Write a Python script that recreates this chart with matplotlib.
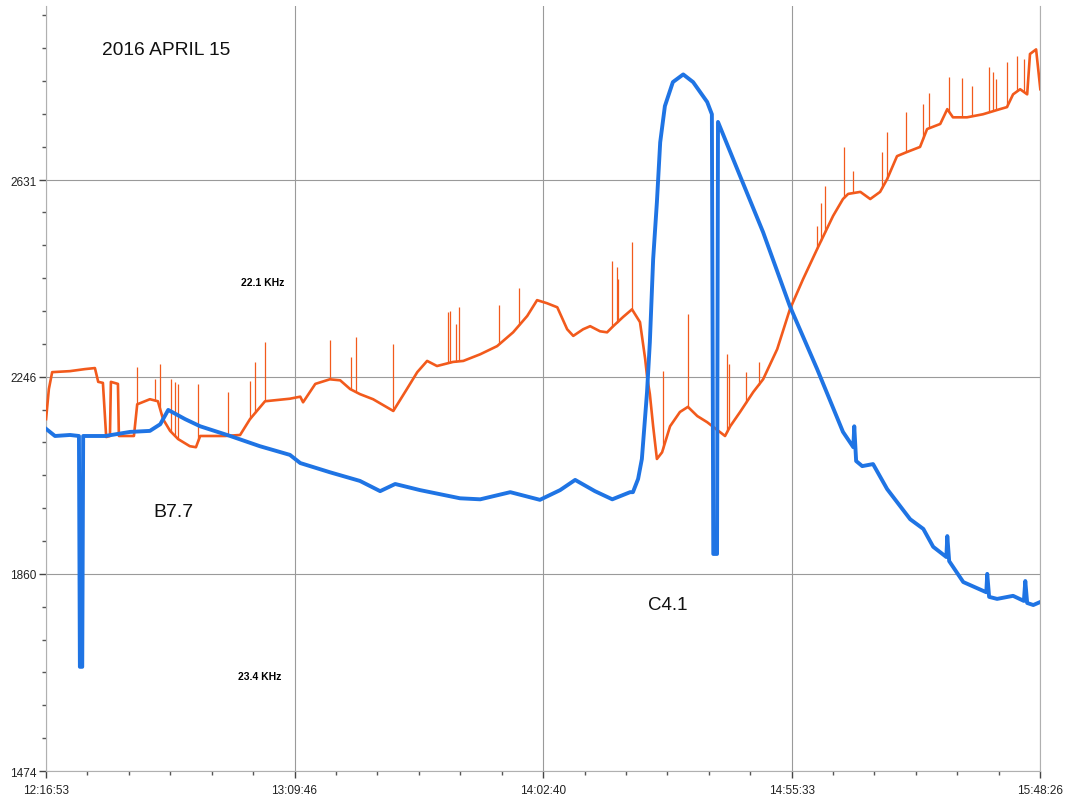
"""VLF receiver record, 2016 April 15: 22.1 kHz and 23.4 kHz signal strength."""

import matplotlib
import matplotlib.pyplot as plt
import numpy as np
from matplotlib.ticker import FixedLocator, FuncFormatter

matplotlib.use("Agg")

plt.rcParams["font.family"] = ["Liberation Sans", "DejaVu Sans"]

START_SEC = 12 * 3600 + 16 * 60 + 53  # 12:16:53

# minutes since 12:16:53
X_TICKS = [0.0, 52.883, 105.783, 158.667, 211.55]
Y_TICKS = [1474, 1860, 2246, 2631]

# 23.4 kHz trace (blue)
blue_t = [0.0, 1.9, 5.1, 7.0, 7.2, 7.7, 7.9, 12.6, 17.9, 22.1, 24.3, 26.0, 29.6, 32.8,
          39.2, 45.5, 51.9, 54.1, 60.4, 66.8, 71.1, 74.3, 79.6, 88.1, 92.4, 98.8, 105.1,
          109.4, 112.6, 116.8, 120.5, 124.3, 124.9, 126.0, 126.8, 127.9, 128.5, 129.2,
          130.0, 130.7, 131.7, 133.4, 135.6, 137.7, 140.7, 141.7, 142.0, 142.8, 143.0,
          147.7, 152.6, 158.3,
          164.1, 169.6, 171.8, 172.0, 172.4, 173.7, 176.0, 179.0, 183.9, 186.7, 188.8,
          191.6, 191.8, 192.2, 195.2, 200.1, 200.3, 200.7, 202.4, 205.8, 208.1, 208.4,
          208.8, 210.1, 211.6]
blue_v = [2144, 2130, 2132, 2130, 1678, 1678, 2130, 2130, 2138, 2140, 2153, 2181, 2163, 2149,
          2130, 2110, 2093, 2077, 2059, 2042, 2022, 2036, 2024, 2008, 2006, 2020, 2005,
          2024, 2044, 2022, 2006, 2020, 2020, 2046, 2085, 2216, 2314, 2476,
          2588, 2705, 2776, 2823, 2838, 2823, 2784, 2760, 1899, 1899, 2745,
          2639, 2529, 2384,
          2261, 2138, 2108, 2149, 2081, 2071, 2075, 2026, 1967, 1948, 1913,
          1893, 1934, 1885, 1844, 1824, 1860, 1815, 1811, 1817, 1807, 1846,
          1803, 1799, 1805]

# 22.1 kHz trace (orange), base line
orange_t = [0.0, 0.6, 1.3, 5.1, 8.3, 10.4, 11.1, 12.1, 12.8, 13.6, 13.8, 15.3, 15.5, 18.7,
            19.4, 22.1, 23.8,
            24.9, 26.4, 28.1, 30.6, 31.9, 32.8, 38.1, 41.3, 43.4, 46.6, 51.9, 54.1, 54.7,
            57.3, 60.4, 62.6, 64.7, 66.8, 69.6, 73.9, 76.8, 79.0, 81.1, 83.2, 86.6, 88.8,
            92.4, 96.0, 99.4, 102.4, 104.5, 106.6, 108.8, 110.9, 112.2, 114.3, 115.8,
            117.9, 119.4, 120.7, 122.8, 124.7, 126.4, 127.5, 127.9, 128.5, 129.2, 130.0,
            131.1, 132.8, 134.9, 136.6, 138.6, 140.7, 144.5, 145.6, 147.7, 150.5, 152.6,
            155.6, 158.3, 161.1, 164.1, 167.5, 169.6, 170.7, 173.3, 175.4, 177.5, 179.0,
            181.1, 183.2, 186.0, 187.5, 190.3, 191.8, 193.0, 196.0, 199.4, 203.0, 204.5,
            205.8, 207.3, 208.8, 209.4, 210.7, 211.6]
orange_v = [2163, 2222, 2255, 2257, 2261, 2263, 2236, 2234, 2128, 2130, 2236, 2232, 2130, 2130,
            2192, 2202, 2198,
            2163, 2140, 2124, 2110, 2108, 2130, 2130, 2132, 2163, 2198, 2203, 2207, 2196,
            2232, 2241, 2239, 2222, 2212, 2202, 2179, 2222, 2255, 2277, 2267, 2275, 2277,
            2290, 2306, 2333, 2365, 2396, 2390, 2382, 2339, 2326, 2339, 2345,
            2335, 2333, 2345, 2363, 2378, 2353, 2281, 2247, 2212, 2149, 2085,
            2098, 2149, 2177, 2187, 2169, 2157, 2130, 2149, 2177, 2216, 2241,
            2300, 2378, 2437, 2496, 2561, 2594, 2604, 2608, 2594, 2608, 2633,
            2678, 2686, 2696, 2731, 2741, 2770, 2754, 2754, 2760, 2770, 2774,
            2799, 2809, 2799, 2878, 2887, 2809]

# narrow spikes on the 22.1 kHz trace: time and peak value
spike_t = [19.4, 23.2, 24.3, 26.6, 27.5, 28.1, 32.4, 38.7, 43.4, 44.5,
           46.6, 60.4, 64.9, 66.0, 73.9, 85.6, 86.0, 87.3, 87.9, 96.4, 100.7, 120.5,
           121.5, 121.7, 124.7, 131.3, 136.6, 144.9, 145.4, 149.0, 151.7, 164.1, 164.9,
           165.8, 169.8, 171.8, 177.9, 179.0, 183.0, 186.7, 187.9, 192.2, 195.0, 197.1,
           200.7, 201.6, 202.2, 204.5, 206.7, 208.2]
spike_v = [2265, 2241, 2271, 2241, 2236, 2232, 2232, 2216, 2237, 2275,
           2314, 2318, 2284, 2324, 2310, 2373, 2375, 2349, 2382, 2386, 2420, 2472,
           2461, 2437, 2510, 2257, 2369, 2290, 2271, 2255, 2275, 2541, 2586,
           2619, 2696, 2649, 2686, 2725, 2764, 2780, 2801, 2833, 2831, 2815,
           2852, 2842, 2829, 2862, 2874, 2868]

BLUE = "#1f74e4"
ORANGE = "#f25a1c"
GRID = "#9a9a9a"


def _hms(minutes, _pos=None):
    s = int(round(START_SEC + minutes * 60))
    return f"{s // 3600:02d}:{(s // 60) % 60:02d}:{s % 60:02d}"


def main() -> None:
    fig = plt.figure(figsize=(10.66, 8.03), dpi=100)
    ax = fig.add_axes([0.0432, 0.0386, 0.9325, 0.9527])

    ax.plot(orange_t, orange_v, color=ORANGE, lw=1.9, zorder=3)
    base = np.interp(spike_t, orange_t, orange_v)
    ax.vlines(spike_t, base, spike_v, color=ORANGE, lw=0.9, zorder=3)
    ax.plot(blue_t, blue_v, color=BLUE, lw=2.8, zorder=4)

    ax.set_xlim(X_TICKS[0], X_TICKS[-1])
    ax.set_ylim(1474, 2972)

    ax.xaxis.set_major_locator(FixedLocator(X_TICKS))
    ax.xaxis.set_major_formatter(FuncFormatter(_hms))
    x_minor = [X_TICKS[i] + (X_TICKS[i + 1] - X_TICKS[i]) * k / 6
               for i in range(len(X_TICKS) - 1) for k in range(1, 6)]
    ax.xaxis.set_minor_locator(FixedLocator(x_minor))

    ax.yaxis.set_major_locator(FixedLocator(Y_TICKS))
    step = (Y_TICKS[1] - Y_TICKS[0]) / 6
    y_minor = [Y_TICKS[0] + step * k for k in range(1, 24) if k % 6]
    ax.yaxis.set_minor_locator(FixedLocator(y_minor))

    ax.tick_params(axis="both", which="major", direction="out", length=5, width=1,
                   color="#444444", labelsize=8.5, labelcolor="#222222")
    ax.tick_params(axis="both", which="minor", direction="out", length=3, width=1,
                   color="#555555")
    ax.tick_params(axis="x", pad=4)
    ax.tick_params(axis="y", pad=2)

    ax.grid(which="major", color=GRID, lw=0.8)
    for side in ("left", "bottom", "right"):
        ax.spines[side].set_color("#b0b0b0")
        ax.spines[side].set_linewidth(0.8)
    ax.spines["top"].set_visible(False)

    ax.text(11.9, 2887, "2016 APRIL 15", fontsize=13.8, va="center", ha="left", color="#111111")
    ax.text(46.0, 2431, "22.1 KHz", fontsize=7.5, fontweight="bold", ha="center", va="center")
    ax.text(45.5, 1660, "23.4 KHz", fontsize=7.5, fontweight="bold", ha="center", va="center")
    ax.text(22.8, 1983, "B7.7", fontsize=14, ha="left", va="center", color="#111111")
    ax.text(128.1, 1801, "C4.1", fontsize=13.5, ha="left", va="center", color="#111111")

    fig.savefig("out.png", dpi=100)
    plt.close(fig)


if __name__ == "__main__":
    main()
